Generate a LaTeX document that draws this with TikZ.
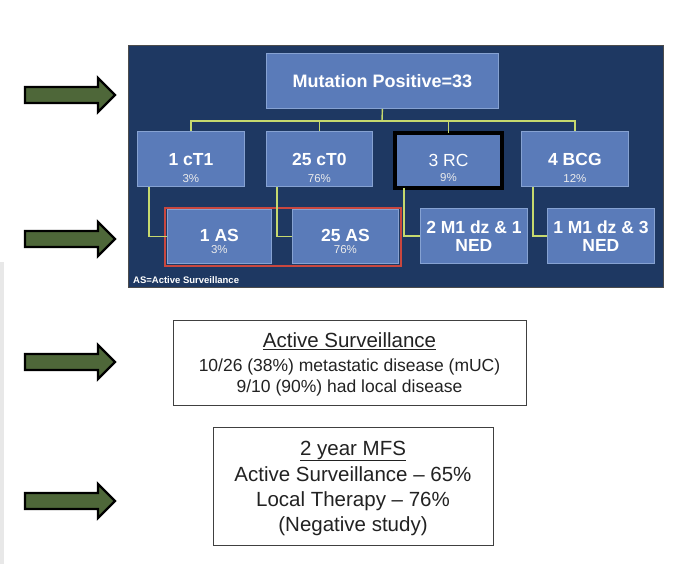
\documentclass[tikz,border=0pt]{standalone}
\usepackage{fontspec}
\setmainfont{Liberation Sans}
\definecolor{navy}{HTML}{1E3862}
\definecolor{boxblue}{HTML}{5A7BB9}
\definecolor{boxedge}{HTML}{86A2D2}
\definecolor{connc}{HTML}{C6D96E}
\definecolor{redframe}{HTML}{C9473F}
\definecolor{arrowgreen}{HTML}{4E6739}
\definecolor{txtgray}{HTML}{222222}
\begin{document}
\begin{tikzpicture}[x=1pt,y=-1pt,
  bluebox/.style={draw=boxedge, line width=0.8pt, fill=boxblue, inner sep=0pt, anchor=north west},
  lbl/.style={text=white, font=\bfseries\fontsize{17.5}{21}\selectfont, inner sep=0pt},
  pct/.style={text=white!92!black, font=\fontsize{11.5}{13}\selectfont, inner sep=0pt},
  conn/.style={draw=connc, line width=1.4pt},
  txtbox/.style={draw=black!75, line width=1.1pt, fill=white, inner sep=0pt, anchor=north west},
  bodytxt/.style={text=txtgray, inner sep=0pt, anchor=base},
  fatarrow/.style={draw=black, line width=2.4pt, fill=arrowgreen, line join=miter}
]
\useasboundingbox (0,0) rectangle (686,564);
\fill[white] (0,0) rectangle (686,564);
\fill[black!9] (0,262) rectangle (4,564);

% dark panel
\node[draw=black!70, line width=0.8pt, fill=navy, inner sep=0pt, anchor=north west,
      minimum width=535pt, minimum height=242pt] (panel) at (128,45) {};

% top box
\node[bluebox, minimum width=232pt, minimum height=55pt] (mut) at (266,53) {};
\node[lbl, font=\bfseries\fontsize{18}{21}\selectfont] at (mut.center) {Mutation Positive=33};

% second row
\node[bluebox, minimum width=107pt, minimum height=55pt] (ct1) at (137,131) {};
\node[bluebox, minimum width=106pt, minimum height=55pt] (ct0) at (266,131) {};
\node[draw=black, line width=4pt, fill=boxblue, inner sep=0pt, anchor=north west,
      minimum width=107pt, minimum height=55pt] (rc) at (393,131) {};
\node[bluebox, minimum width=107pt, minimum height=55pt] (bcg) at (521,131) {};

\node[lbl] at ([yshift=-0.5pt]ct1.center) {1 cT1};
\node[pct] at ([yshift=-19.5pt]ct1.center) {3\%};
\node[lbl] at ([yshift=-0.5pt]ct0.center) {25 cT0};
\node[pct] at ([yshift=-19.5pt]ct0.center) {76\%};
\node[lbl, font=\fontsize{17.5}{21}\selectfont] at ([yshift=0.5pt]rc.center) {3 RC};
\node[pct] at ([yshift=-17.5pt]rc.center) {9\%};
\node[lbl] at ([yshift=-0.5pt]bcg.center) {4 BCG};
\node[pct] at ([yshift=-19.5pt]bcg.center) {12\%};

% third row
\node[bluebox, minimum width=104pt, minimum height=54pt] (as1) at (167,209) {};
\node[bluebox, minimum width=106pt, minimum height=54pt] (as25) at (292,209) {};
\node[draw=redframe, line width=2pt, inner sep=0pt, anchor=north west,
      minimum width=236pt, minimum height=58pt] (asframe) at (164,207) {};
\node[bluebox, minimum width=107pt, minimum height=55pt] (m1a) at (420,208) {};
\node[bluebox, minimum width=107pt, minimum height=55pt] (m1b) at (547,208) {};

\node[lbl] at ([yshift=1pt]as1.center) {1 AS};
\node[pct] at ([yshift=-13pt]as1.center) {3\%};
\node[lbl] at ([yshift=1pt]as25.center) {25 AS};
\node[pct] at ([yshift=-13pt]as25.center) {76\%};
\node[lbl] at ([yshift=8.5pt]m1a.center) {2 M1 dz \& 1};
\node[lbl] at ([yshift=-9.5pt]m1a.center) {NED};
\node[lbl] at ([yshift=8.5pt]m1b.center) {1 M1 dz \& 3};
\node[lbl] at ([yshift=-9.5pt]m1b.center) {NED};

\node[text=white, font=\bfseries\fontsize{9.5}{11}\selectfont, inner sep=0pt, anchor=base west]
  (asnote) at (133,284) {AS=Active Surveillance};

% connectors
\coordinate (bus) at (382,121);
\draw[conn] (mut.south) -- (bus);
\draw[conn] (ct1.north) -- (ct1.north |- bus) -- (bcg.north |- bus) -- (bcg.north);
\draw[conn] (ct0.north) -- (ct0.north |- bus);
\draw[conn] ([yshift=-2pt]rc.north) -- (rc.north |- bus);
\draw[conn] ([xshift=12pt]ct1.south west) |- (as1.west);
\draw[conn] ([xshift=11pt]ct0.south west) |- (as25.west);
\draw[conn] ([xshift=11pt,yshift=2pt]rc.south west) |- (m1a.west);
\draw[conn] ([xshift=12pt]bcg.south west) |- (m1b.west);

% lower text boxes
\node[txtbox, minimum width=353pt, minimum height=85pt] (box1) at (173,320) {};
\node[bodytxt, font=\fontsize{20.5}{24}\selectfont] at (349.5,348) {\underline{Active Surveillance}};
\node[bodytxt, font=\fontsize{17.5}{21}\selectfont] at (349.5,371) {10/26 (38\%) metastatic disease (mUC)};
\node[bodytxt, font=\fontsize{17.5}{21}\selectfont] at (349.5,392) {9/10 (90\%) had local disease};

\node[txtbox, minimum width=280pt, minimum height=118pt] (box2) at (213,427) {};
\node[bodytxt, font=\fontsize{20.5}{24}\selectfont] at (353,455) {\underline{2 year MFS}};
\node[bodytxt, font=\fontsize{20.5}{24}\selectfont] at (353,481) {Active Surveillance – 65\%};
\node[bodytxt, font=\fontsize{20.5}{24}\selectfont] at (353,506) {Local Therapy – 76\%};
\node[bodytxt, font=\fontsize{20.5}{24}\selectfont] at (353,531) {(Negative study)};

% block arrows
\foreach \cy in {95,239,362,501} {
  \draw[fatarrow] (25,\cy-8) -- (98,\cy-8) -- (98,\cy-17) -- (115,\cy) -- (98,\cy+17)
    -- (98,\cy+8) -- (25,\cy+8) -- cycle;
}
\end{tikzpicture}
\end{document}
